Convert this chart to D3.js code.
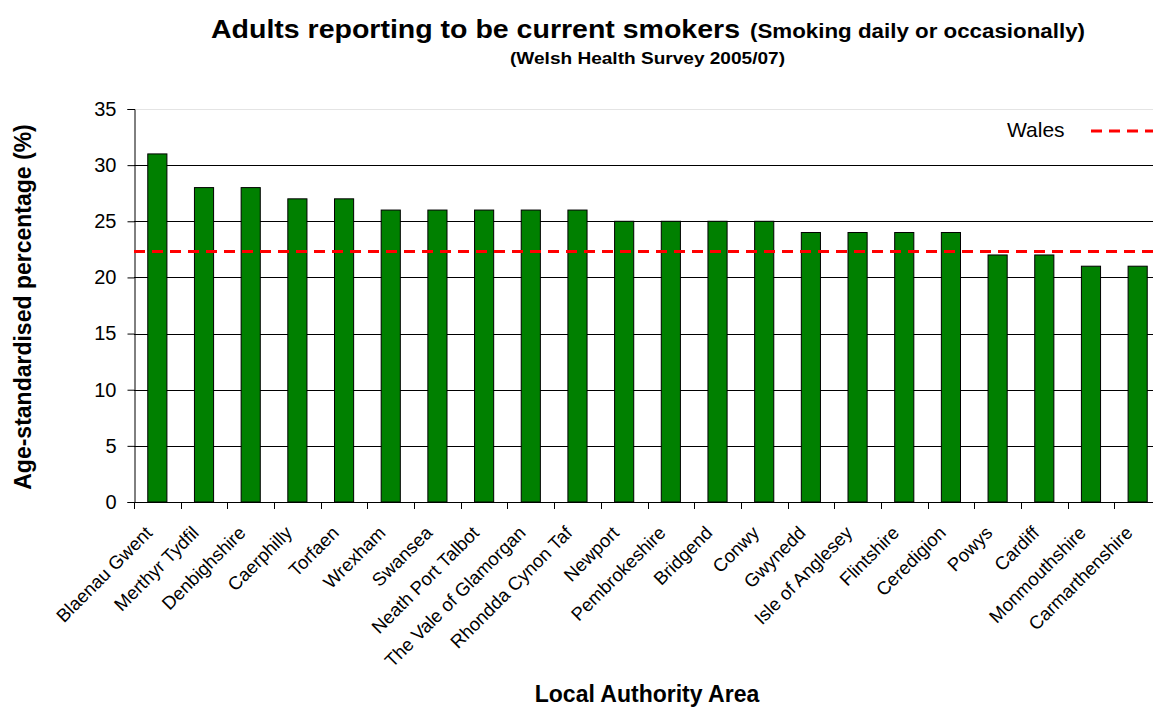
<!DOCTYPE html>
<html>
<head>
<meta charset="utf-8">
<script src="https://cdn.jsdelivr.net/npm/d3@7"></script>
<style>
  body { margin: 0; background: #fff; }
  text { font-family: "Liberation Sans", Arial, sans-serif; }
</style>
</head>
<body>
<div id="chart"></div>
<script>
// local authority areas, sorted as in the chart
let areas = ["Blaenau Gwent", "Merthyr Tydfil", "Denbighshire", "Caerphilly", "Torfaen",
  "Wrexham", "Swansea", "Neath Port Talbot", "The Vale of Glamorgan", "Rhondda Cynon Taf",
  "Newport", "Pembrokeshire", "Bridgend", "Conwy", "Gwynedd", "Isle of Anglesey",
  "Flintshire", "Ceredigion", "Powys", "Cardiff", "Monmouthshire", "Carmarthenshire"];
let smokers = [31, 28, 28, 27, 27, 26, 26, 26, 26, 26, 25, 25, 25, 25, 24, 24, 24, 24, 22, 22, 21, 21];
let wales = 22.3;
let y_ticks = [0, 5, 10, 15, 20, 25, 30, 35];

let chart_width = 1153;
let chart_height = 708;
let plot_left = 134, plot_right = 1161, plot_top = 109, plot_bottom = 502;

let svg = d3.select("#chart").append("svg")
  .attr("width", chart_width)
  .attr("height", chart_height);

let x_scale = d3.scaleBand()
  .domain(areas)
  .range([plot_left, plot_right])
  .paddingInner(0.59)
  .paddingOuter(0.295);

let y_scale = d3.scaleLinear()
  .domain([0, 35])
  .range([plot_bottom, plot_top]);

// gridlines
svg.append("g")
  .selectAll("line")
  .data(y_ticks.slice(1))
  .enter()
  .append("line")
  .attr("x1", plot_left)
  .attr("x2", plot_right)
  .attr("y1", d => Math.round(y_scale(d)) + 0.5)
  .attr("y2", d => Math.round(y_scale(d)) + 0.5)
  .attr("stroke", d => d == 35 ? "#e4e4e4" : "#000")
  .attr("stroke-width", 1);

// bars
svg.append("g")
  .selectAll("rect")
  .data(smokers)
  .enter()
  .append("rect")
  .attr("x", (d, i) => x_scale(areas[i]))
  .attr("y", d => y_scale(d))
  .attr("width", x_scale.bandwidth())
  .attr("height", d => plot_bottom - y_scale(d))
  .attr("fill", "#008000")
  .attr("stroke", "#000")
  .attr("stroke-width", 1);

// y axis
let y_axis = d3.axisLeft(y_scale)
  .tickValues(y_ticks)
  .tickSize(7)
  .tickPadding(11);
let gy = svg.append("g")
  .attr("transform", "translate(" + (plot_left + 0.5) + ",0)")
  .call(y_axis);
gy.selectAll("text").style("font-size", "20px").attr("fill", "#000");

// x axis: ticks on band boundaries
let gx = svg.append("g");
gx.append("line")
  .attr("x1", plot_left).attr("x2", plot_right)
  .attr("y1", plot_bottom + 0.5).attr("y2", plot_bottom + 0.5)
  .attr("stroke", "#000");
let step = x_scale.step();
gx.selectAll(".tk")
  .data(d3.range(areas.length + 1))
  .enter()
  .append("line")
  .attr("x1", i => Math.round(plot_left + i * step) + 0.5)
  .attr("x2", i => Math.round(plot_left + i * step) + 0.5)
  .attr("y1", plot_bottom)
  .attr("y2", plot_bottom + 7)
  .attr("stroke", "#000");
gx.selectAll("text")
  .data(areas)
  .enter()
  .append("text")
  .attr("transform", d => "translate(" + (x_scale(d) + x_scale.bandwidth() / 2 - 4) + "," + (plot_bottom + 32) + ") rotate(-45)")
  .attr("text-anchor", "end")
  .style("font-size", "18.5px")
  .text(d => d);

// Wales average line
svg.append("line")
  .attr("x1", plot_left)
  .attr("x2", plot_right)
  .attr("y1", y_scale(wales))
  .attr("y2", y_scale(wales))
  .attr("stroke", "#ff0000")
  .attr("stroke-width", 3)
  .attr("stroke-dasharray", "11,7");

// legend
svg.append("text")
  .attr("x", 1007)
  .attr("y", 137)
  .style("font-size", "21px")
  .text("Wales");
svg.append("line")
  .attr("x1", 1091)
  .attr("x2", 1160)
  .attr("y1", 131)
  .attr("y2", 131)
  .attr("stroke", "#ff0000")
  .attr("stroke-width", 3)
  .attr("stroke-dasharray", "11,7");

// titles
svg.append("text")
  .attr("x", 211)
  .attr("y", 38)
  .attr("textLength", 529)
  .attr("lengthAdjust", "spacingAndGlyphs")
  .style("font-weight", "bold")
  .style("font-size", "25px")
  .text("Adults reporting to be current smokers");
svg.append("text")
  .attr("x", 750)
  .attr("y", 38)
  .attr("textLength", 335)
  .attr("lengthAdjust", "spacingAndGlyphs")
  .style("font-weight", "bold")
  .style("font-size", "20px")
  .text("(Smoking daily or occasionally)");

svg.append("text")
  .attr("x", 510)
  .attr("y", 64)
  .attr("textLength", 275)
  .attr("lengthAdjust", "spacingAndGlyphs")
  .style("font-weight", "bold")
  .style("font-size", "16.5px")
  .text("(Welsh Health Survey 2005/07)");

svg.append("text")
  .attr("transform", "translate(31,307) rotate(-90)")
  .attr("text-anchor", "middle")
  .style("font-weight", "bold")
  .style("font-size", "23px")
  .text("Age-standardised percentage (%)");

svg.append("text")
  .attr("x", 647)
  .attr("y", 702)
  .attr("text-anchor", "middle")
  .style("font-weight", "bold")
  .style("font-size", "23px")
  .text("Local Authority Area");
</script>
</body>
</html>
